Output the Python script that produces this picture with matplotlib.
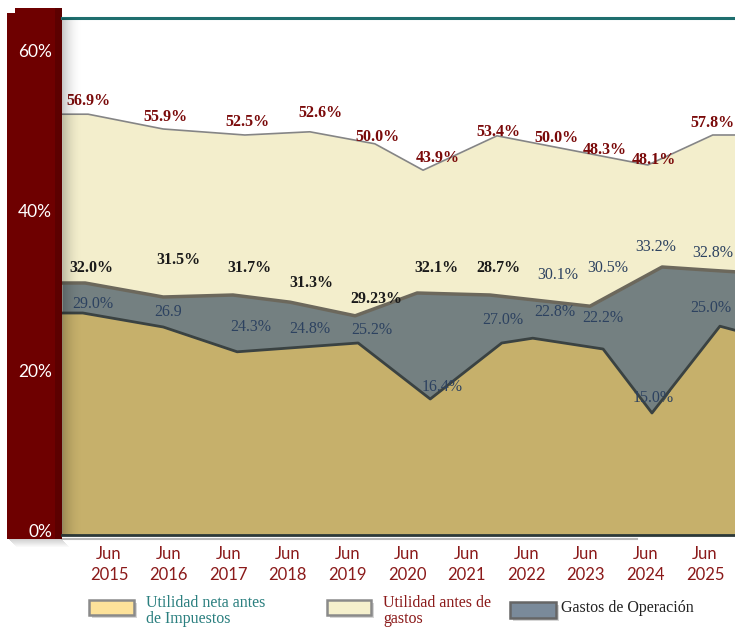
import matplotlib.pyplot as plt
from matplotlib.patches import Rectangle
from matplotlib.lines import Line2D
from matplotlib.transforms import ScaledTranslation

# area outlines (x in years, value in %)
top_x = [2014.21, 2014.65, 2015.91, 2017.28, 2018.37, 2019.46, 2020.27, 2021.51, 2024.04, 2025.13, 2025.50]
top_y = [52.6, 52.6, 50.75, 50.0, 50.4, 48.9, 45.6, 49.9, 46.25, 50.0, 50.0]

gastos_x = [2014.21, 2014.60, 2015.91, 2017.08, 2018.04, 2019.13, 2020.17, 2021.39, 2023.07, 2024.28, 2025.08, 2025.50]
gastos_y = [31.5, 31.5, 29.75, 30.0, 29.1, 27.4, 30.25, 30.0, 28.6, 33.5, 33.1, 32.9]

neta_x = [2014.21, 2014.56, 2015.91, 2017.15, 2019.18, 2020.39, 2021.59, 2022.11, 2023.29, 2024.11, 2025.25, 2025.50]
neta_y = [27.75, 27.75, 26.0, 22.9, 24.0, 17.0, 24.0, 24.6, 23.25, 15.25, 26.1, 25.6]

years = list(range(2015, 2026))
tick_labels = ["Jun\n%d" % y for y in years]

# labels written on the chart
top_labels = ["56.9%", "55.9%", "52.5%", "52.6%", "50.0%", "43.9%", "53.4%", "50.0%", "48.3%", "48.1%", "57.8%"]
top_lab_pos = [(2014.65, 54.25), (2015.94, 52.25), (2017.33, 51.6), (2018.54, 52.75), (2019.50, 49.75),
               (2020.52, 47.1), (2021.54, 50.4), (2022.50, 49.6), (2023.32, 48.1), (2024.14, 46.9), (2025.12, 51.5)]

mid_labels = ["32.0%", "31.5%", "31.7%", "31.3%", "29.23%", "32.1%", "28.7%"]
mid_lab_pos = [(2014.71, 33.4), (2016.16, 34.4), (2017.35, 33.4), (2018.39, 31.5), (2019.48, 29.5),
               (2020.50, 33.4), (2021.54, 33.4)]

blue_labels = ["30.1%", "30.5%", "33.2%", "32.8%",
               "29.0%", "26.9", "24.3%", "24.8%", "25.2%", "16.4%", "27.0%", "22.8%", "22.2%", "15.0%", "25.0%"]
blue_lab_pos = [(2022.53, 32.5), (2023.36, 33.4), (2024.18, 36.0), (2025.13, 35.25),
                (2014.73, 28.9), (2015.99, 27.9), (2017.37, 26.0), (2018.37, 25.75), (2019.41, 25.6),
                (2020.59, 18.5), (2021.61, 26.9), (2022.48, 27.9), (2023.29, 27.1), (2024.13, 17.1), (2025.10, 28.4)]

W, H = 735, 628


def fx(x):
    return x / W


def fy(y):
    return 1 - y / H


fig = plt.figure(figsize=(W / 100, H / 100), dpi=100)

# dark red panel on the left (with a soft shadow below)
for i in range(8):
    fig.patches.append(Rectangle((fx(9 + i), fy(539 + i + 1)), (62 - 9) / W, 1 / H, transform=fig.transFigure,
                                 fc="k", ec="none", alpha=0.18 * (1 - i / 8), zorder=-2))
fig.patches.append(Rectangle((fx(7), fy(539)), (62 - 7) / W, (539 - 13) / H, transform=fig.transFigure,
                             fc="#6e0000", ec="none", zorder=-1))
fig.patches.append(Rectangle((fx(15), fy(13)), (62 - 15) / W, 5 / H, transform=fig.transFigure,
                             fc="#6e0000", ec="none", zorder=-1))
fig.patches.append(Rectangle((fx(55), fy(539)), 7 / W, (539 - 8) / H, transform=fig.transFigure,
                             fc="#5c0000", ec="none", zorder=-1))
fig.lines.append(Line2D([fx(62), fx(637)], [fy(538.5), fy(538.5)], transform=fig.transFigure,
                        color="#b8b8b8", lw=1.5, zorder=-1))

ax = fig.add_axes([fx(62), fy(535), (W - 62) / W, (535 - 18) / H])
ax.set_xlim(2015 - 47 / 59.6, 2025 + 30 / 59.6)
ax.set_ylim(0, (535 - 18) / 8)

ax.fill_between(top_x, 0, top_y, color="#f3eecc", lw=0)
ax.plot(top_x, top_y, color="#858585", lw=1.2)
ax.fill_between(gastos_x, 0, gastos_y, color="#748081", lw=0)
ax.plot(gastos_x, gastos_y, color="#6c685c", lw=2.5)
ax.fill_between(neta_x, 0, neta_y, color="#c6b06b", lw=0)
ax.plot(neta_x, neta_y, color="#3a4242", lw=2)

# soft shadow next to the panel
for i in range(20):
    ax.add_patch(Rectangle((i / 673, 0), 1 / 673, 1, transform=ax.transAxes, fc="k", ec="none",
                           alpha=0.22 * (1 - i / 20) ** 2, zorder=5))

serif = "Liberation Serif"
for s, (x, y) in zip(top_labels, top_lab_pos):
    ax.text(x, y, s, ha="center", va="center", fontsize=11.5, fontweight="bold", family=serif, color="#7a0a0a")
for s, (x, y) in zip(mid_labels, mid_lab_pos):
    ax.text(x, y, s, ha="center", va="center", fontsize=11.5, fontweight="bold", family=serif, color="#1a1a1a")
for s, (x, y) in zip(blue_labels, blue_lab_pos):
    ax.text(x, y, s, ha="center", va="center", fontsize=11.5, family=serif, color="#2d4260")

for side in ["left", "right"]:
    ax.spines[side].set_visible(False)
ax.spines["top"].set_color("#1e6e6e")
ax.spines["top"].set_linewidth(2.2)
ax.spines["bottom"].set_color("#2b3838")
ax.spines["bottom"].set_linewidth(2)

ax.set_xticks(years)
ax.set_xticklabels(tick_labels, fontsize=12, family="Lato", color="#8b1a1a", linespacing=1.35)
ax.tick_params(axis="x", length=0, pad=8)
ax.set_yticks([0, 20, 40, 60])
ax.set_yticklabels(["0%", "20%", "40%", "60%"], fontsize=12.5, family="Lato", color="white")
ax.tick_params(axis="y", length=0, pad=7)
for lab in ax.get_yticklabels():
    lab.set_transform(lab.get_transform() + ScaledTranslation(0, 3.5 / 72, fig.dpi_scale_trans))

# legend
leg = [((89, 600, 45, 15), "#fde29a", "#8a8a8a", 146, "Utilidad neta antes\nde Impuestos", "#2a7f7f"),
       ((327, 600, 44, 15), "#f5f0cd", "#8a8a8a", 383, "Utilidad antes de\ngastos", "#8b1a1a"),
       ((510, 602, 46, 16), "#7a8a9a", "#666666", 561, "Gastos de Operación", "#222222")]
for (x, y, w, h), fc, ec, tx, txt, tc in leg:
    fig.patches.append(Rectangle((fx(x + 3), fy(y + h + 3)), w / W, h / H, transform=fig.transFigure,
                                 fc="#bbbbbb", ec="none", alpha=0.6))
    fig.patches.append(Rectangle((fx(x), fy(y + h)), w / W, h / H, transform=fig.transFigure,
                                 fc=fc, ec=ec, lw=1.8))
    ty = 595 if "\n" in txt else 600
    fig.text(fx(tx), fy(ty), txt, ha="left", va="top", fontsize=11.5, family=serif, color=tc, linespacing=0.98)

fig.savefig("out.png", dpi=100)
